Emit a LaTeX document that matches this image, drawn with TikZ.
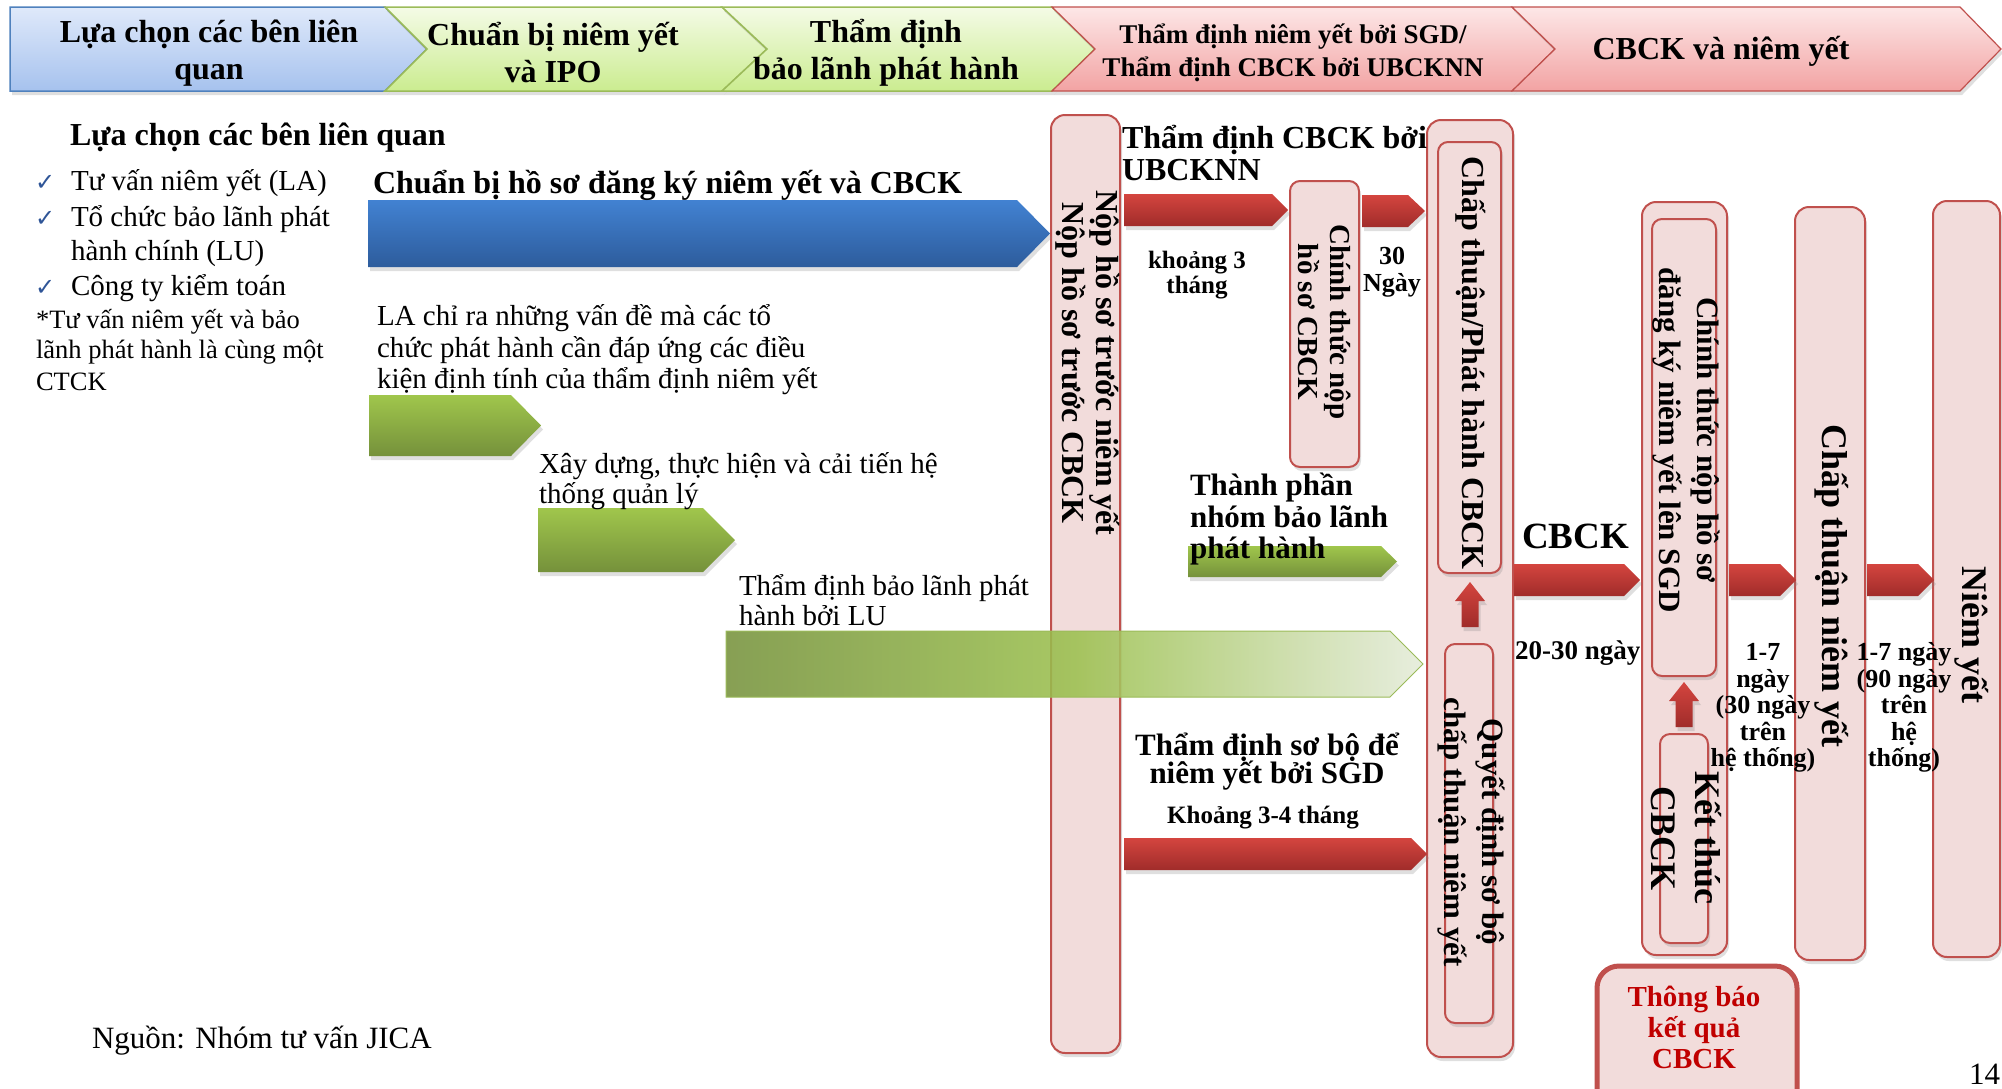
\documentclass[tikz,border=0pt]{standalone}
\usepackage{fontspec}
\setmainfont{Liberation Serif}
\newfontfamily\symfont{DejaVu Sans}
\usetikzlibrary{shadows}
\definecolor{hbt}{HTML}{DFE9FA}
\definecolor{hbb}{HTML}{A6C2EE}
\definecolor{hbd}{HTML}{4F81BD}
\definecolor{hgt}{HTML}{F4FBE6}
\definecolor{hgb}{HTML}{CBEC90}
\definecolor{hgd}{HTML}{9BBB59}
\definecolor{hpt}{HTML}{FDE7E7}
\definecolor{hpb}{HTML}{F2A3A3}
\definecolor{cred}{HTML}{C0504D}
\definecolor{cpink}{HTML}{F2DCDB}
\definecolor{rt}{HTML}{D4453F}
\definecolor{rb}{HTML}{A02C2A}
\definecolor{gt}{HTML}{A0C64C}
\definecolor{gb}{HTML}{75913B}
\definecolor{gd}{HTML}{8FB04E}
\definecolor{bt}{HTML}{4282D2}
\definecolor{bb}{HTML}{2D5C9C}
\definecolor{gl}{HTML}{76923C}
\definecolor{gm}{HTML}{9BC04E}
\definecolor{gr}{HTML}{E4EBD9}
\definecolor{ckc}{HTML}{2F5597}
\definecolor{tbred}{HTML}{C00000}
\newcommand{\hparr}[6]{\path[#1] (#2,#3) -- ({#4-#6},#3) -- (#4,{(#3+#5)/2}) -- ({#4-#6},#5) -- (#2,#5) -- cycle;}
\newcommand{\uparr}[3]{\path[redarr] ({#1-8.5},#3) -- ({#1-8.5},{#2+19}) -- ({#1-15},{#2+19}) -- (#1,#2) -- ({#1+15},{#2+19}) -- ({#1+8.5},{#2+19}) -- ({#1+8.5},#3) -- cycle;}
\tikzset{
  every node/.style={inner sep=0pt, outer sep=0pt},
  fb/.style 2 args={font=\bfseries\fontsize{#1}{#2}\selectfont},
  fr/.style 2 args={font=\fontsize{#1}{#2}\selectfont},
  shd/.style={drop shadow={opacity=0.25, shadow xshift=2pt, shadow yshift=-4pt}},
  hdrblue/.style={draw=hbd, line width=1.5pt, top color=hbt, bottom color=hbb, shd},
  hdrgreen/.style={draw=hgd, line width=1.5pt, top color=hgt, bottom color=hgb, shd},
  hdrpink/.style={draw=cred, line width=1.2pt, top color=hpt, bottom color=hpb, shd},
  colbox/.style={draw=cred, fill=cpink, line width=2pt, rounded corners=14pt, shd},
  inbox/.style={draw=cred, fill=cpink, line width=2pt, rounded corners=10pt, shd},
  redarr/.style={top color=rt, bottom color=rb, shd},
  grnarr/.style={top color=gt, bottom color=gb, shd},
  bluarr/.style={top color=bt, bottom color=bb, shd},
  vt/.style={rotate=-90, align=center},
}
\begin{document}
\begin{tikzpicture}[x=1pt,y=-1pt]
\useasboundingbox (0,0) rectangle (2002,1088);
\clip (0,0) rectangle (2002,1088);
% header
\path[hdrblue] (10,7) -- (385,7) -- (427,49) -- (385,91) -- (10,91) -- cycle;
\path[hdrgreen] (385,7) -- (722,7) -- (767,49) -- (722,91) -- (385,91) -- (427,49) -- cycle;
\path[hdrgreen] (722,7) -- (1052,7) -- (1095,49) -- (1052,91) -- (722,91) -- (767,49) -- cycle;
\path[hdrpink] (1052,7) -- (1512,7) -- (1555,49) -- (1512,91) -- (1052,91) -- (1095,49) -- cycle;
\path[hdrpink] (1512,7) -- (1960,7) -- (2001,49) -- (1960,91) -- (1512,91) -- (1555,49) -- cycle;
\node[fb={32}{37}, align=center] (h1) at (209,53) {Lựa chọn các bên liên\\quan};
\node[fb={32}{37}, align=center] (h2) at (553,53) {Chuẩn bị niêm yết\\và IPO};
\node[fb={32}{37}, align=center] (h3) at (886,53) {Thẩm định\\bảo lãnh phát hành};
\node[fb={27}{33}, align=center] (h4) at (1293,53) {Thẩm định niêm yết bởi SGD/\\Thẩm định CBCK bởi UBCKNN};
\node[fb={32}{37}, align=center] (h5) at (1721,51) {CBCK và niêm yết};
% columns and boxes
\node[colbox, minimum width=69pt, minimum height=938pt] (c1) at (1085.5,584) {};
\node[inbox, minimum width=69pt, minimum height=286pt] (nk) at (1324.5,324) {};
\node[colbox, minimum width=86pt, minimum height=937pt] (c2) at (1470,588.5) {};
\node[inbox, minimum width=63pt, minimum height=431pt] (c2a) at (1469.5,357.5) {};
\node[inbox, minimum width=48pt, minimum height=379pt] (c2b) at (1469,833.5) {};
\node[colbox, minimum width=85pt, minimum height=753pt] (c3) at (1684.5,578.5) {};
\node[inbox, minimum width=64pt, minimum height=457pt] (c3a) at (1684,447.5) {};
\node[inbox, minimum width=48pt, minimum height=209pt] (c3b) at (1684,838.5) {};
\node[colbox, minimum width=70pt, minimum height=753pt] (c4) at (1830,583.5) {};
\node[colbox, minimum width=67pt, minimum height=756pt] (c5) at (1966.5,579) {};
\node[draw=cred, fill=cpink, line width=5pt, rounded corners=22pt, minimum width=200pt, minimum height=150pt] (tb) at (1697,1041) {};
% arrows
\hparr{bluarr}{368}{200}{1050}{267}{33}
\hparr{grnarr}{369}{395}{541}{456}{30}
\hparr{grnarr}{538}{508}{735}{572}{32}
\path[left color=gl, right color=gr, middle color=gm, fill opacity=0.88, draw=hgd, line width=1pt] (726,631) -- (1390,631) -- (1423,664) -- (1390,697) -- (726,697) -- cycle;
\hparr{grnarr}{1188}{546}{1397}{577}{16}
\hparr{redarr}{1124}{194}{1288}{226}{16}
\hparr{redarr}{1362}{195}{1425}{227}{17}
\hparr{redarr}{1124}{838}{1427}{870}{16}
\hparr{redarr}{1514}{564}{1640}{596}{16}
\hparr{redarr}{1729}{564}{1796}{596}{16}
\hparr{redarr}{1867}{564}{1934}{596}{16}
\uparr{1470}{582}{627}
\uparr{1684}{682}{727}
% left texts
\node[fb={32}{37}, anchor=base west] (sel) at (70,145) {Lựa chọn các bên liên quan};
\node[font=\symfont\fontsize{24}{24}\selectfont, text=ckc, anchor=base west] (ck1) at (35,190) {✓};
\node[font=\symfont\fontsize{24}{24}\selectfont, text=ckc, anchor=base west] (ck2) at (35,226) {✓};
\node[font=\symfont\fontsize{24}{24}\selectfont, text=ckc, anchor=base west] (ck3) at (35,295) {✓};
\node[fr={29}{34}, anchor=base west] (b1) at (71,190) {Tư vấn niêm yết (LA)};
\node[fr={29}{34}, anchor=base west] (b2) at (71,226) {Tổ chức bảo lãnh phát};
\node[fr={29}{34}, anchor=base west] (b3) at (71,260) {hành chính (LU)};
\node[fr={29}{34}, anchor=base west] (b4) at (71,295) {Công ty kiểm toán};
\node[fr={26.5}{31}, anchor=base west] (f1) at (36,328) {*Tư vấn niêm yết và bảo};
\node[fr={26.5}{31}, anchor=base west] (f2) at (36,358) {lãnh phát hành là cùng một};
\node[fr={26.5}{31}, anchor=base west] (f3) at (36,390) {CTCK};
\node[fr={31}{36}, anchor=base west] (src) at (92,1048) {Nguồn: Nhóm tư vấn JICA};
\node[fr={31}{36}, anchor=base east] (pg) at (2000,1084) {14};
% middle texts
\node[fb={32}{37}, anchor=base west] (prep) at (373,193) {Chuẩn bị hồ sơ đăng ký niêm yết và CBCK};
\node[fr={29}{34}, anchor=base west] (la1) at (377,325) {LA chỉ ra những vấn đề mà các tổ};
\node[fr={29}{34}, anchor=base west] (la2) at (377,357) {chức phát hành cần đáp ứng các điều};
\node[fr={29}{34}, anchor=base west] (la3) at (377,388) {kiện định tính của thẩm định niêm yết};
\node[fr={29}{34}, anchor=base west] (xd1) at (539,473) {Xây dựng, thực hiện và cải tiến hệ};
\node[fr={29}{34}, anchor=base west] (xd2) at (539,503) {thống quản lý};
\node[fr={29}{34}, anchor=base west] (td1) at (739,595) {Thẩm định bảo lãnh phát};
\node[fr={29}{34}, anchor=base west] (td2) at (739,625) {hành bởi LU};
\node[fb={32}{37}, anchor=base west] (ub1) at (1122,148) {Thẩm định CBCK bởi};
\node[fb={32}{37}, anchor=base west] (ub2) at (1122,180) {UBCKNN};
\node[fb={25}{28}, anchor=base] (kh1) at (1197,268) {khoảng 3};
\node[fb={25}{28}, anchor=base] (kh2) at (1197,293) {tháng};
\node[fb={26}{28}, anchor=base] (n301) at (1392,264) {30};
\node[fb={26}{28}, anchor=base] (n302) at (1392,291) {Ngày};
\node[fb={31}{35}, anchor=base west] (tp1) at (1190,495) {Thành phần};
\node[fb={31}{35}, anchor=base west] (tp2) at (1190,527) {nhóm bảo lãnh};
\node[fb={31}{35}, anchor=base west] (tp3) at (1190,558) {phát hành};
\node[fb={31}{35}, anchor=base] (sb1) at (1267,755) {Thẩm định sơ bộ để};
\node[fb={31}{35}, anchor=base] (sb2) at (1267,783) {niêm yết bởi SGD};
\node[fb={25}{28}, anchor=base] (k34) at (1263,823) {Khoảng 3-4 tháng};
\node[fb={37}{40}, anchor=base west] (cb) at (1522,548) {CBCK};
\node[fb={27}{30}, anchor=base west] (d2030) at (1515,659) {20-30 ngày};
\node[fb={26}{28}, anchor=base] (na1) at (1763,660) {1-7};
\node[fb={26}{28}, anchor=base] (na2) at (1763,687) {ngày};
\node[fb={26}{28}, anchor=base] (na3) at (1763,713) {(30 ngày};
\node[fb={26}{28}, anchor=base] (na4) at (1763,740) {trên};
\node[fb={26}{28}, anchor=base] (na5) at (1763,766) {hệ thống)};
\node[fb={26}{28}, anchor=base] (nb1) at (1904,660) {1-7 ngày};
\node[fb={26}{28}, anchor=base] (nb2) at (1904,687) {(90 ngày};
\node[fb={26}{28}, anchor=base] (nb3) at (1904,713) {trên};
\node[fb={26}{28}, anchor=base] (nb4) at (1904,740) {hệ};
\node[fb={26}{28}, anchor=base] (nb5) at (1904,766) {thống)};
% vertical texts
\node[vt, fb={32}{34}] (c1t) at (1088,363) {Nộp hồ sơ trước niêm yết\\Nộp hồ sơ trước CBCK};
\node[vt, fb={29}{32}] (nkt) at (1325,322) {Chính thức nộp\\hồ sơ CBCK};
\node[vt, fb={32}{36}] (c2at) at (1471,363) {Chấp thuận/Phát hành CBCK};
\node[vt, fb={31}{38}] (c2bt) at (1471,832) {Quyết định sơ bộ\\chấp thuận niêm yết};
\node[vt, fb={31}{38}] (c3at) at (1686,440) {Chính thức nộp hồ sơ\\đăng ký niêm yết lên SGD};
\node[vt, fb={36}{44}] (c3bt) at (1686,838) {Kết thúc\\CBCK};
\node[vt, fb={36}{40}] (c4t) at (1832,586) {Chấp thuận niêm yết};
\node[vt, fb={36}{40}] (c5t) at (1972,635) {Niêm yết};
% result box text
\node[fb={29}{31}, text=tbred, anchor=base] (tb1) at (1694,1006) {Thông báo};
\node[fb={29}{31}, text=tbred, anchor=base] (tb2) at (1694,1037) {kết quả};
\node[fb={29}{31}, text=tbred, anchor=base] (tb3) at (1694,1068) {CBCK};
\end{tikzpicture}
\end{document}
